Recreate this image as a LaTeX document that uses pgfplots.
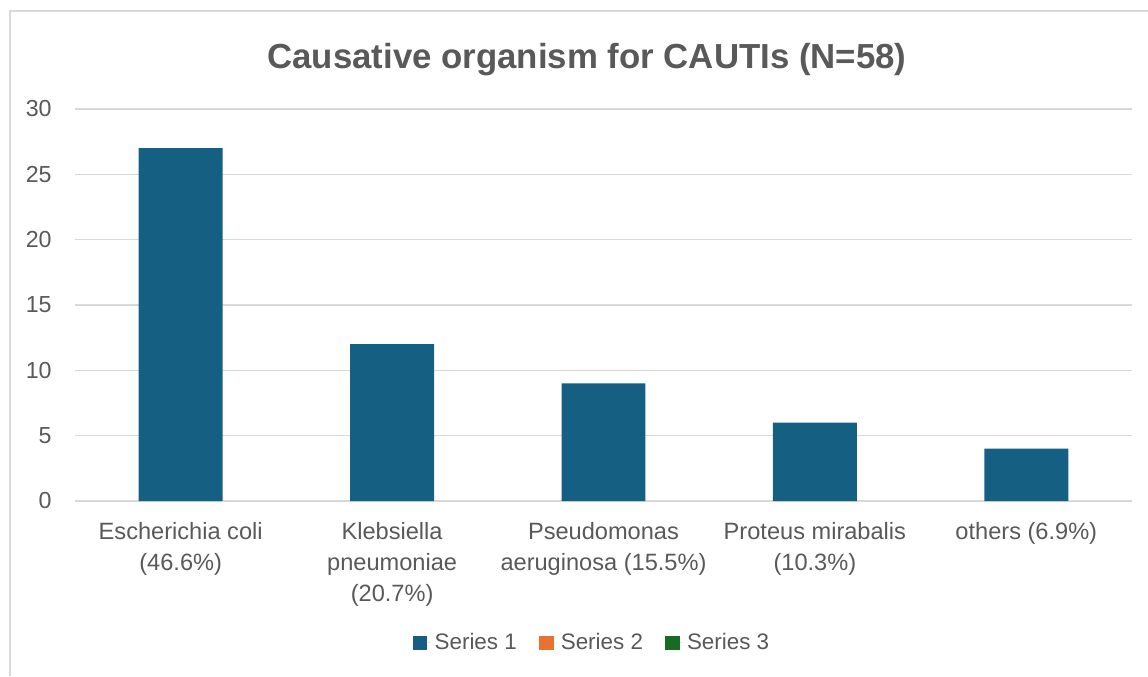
\documentclass[border=0pt]{standalone}
\usepackage{fontspec}
\setmainfont{Liberation Sans}
\usepackage{pgfplots}
\pgfplotsset{compat=1.18}
\definecolor{barblue}{HTML}{156082}
\definecolor{barorange}{HTML}{E97132}
\definecolor{bargreen}{HTML}{196B24}
\definecolor{txtgray}{HTML}{595959}
\definecolor{gridgray}{HTML}{D9D9D9}
\begin{document}
\begin{tikzpicture}
\path[use as bounding box] (0,0) rectangle (574pt,338pt);
\draw[gridgray, line width=0.8pt] (5pt,0) -- (5pt,332.5pt) -- (574pt,332.5pt);
\node[font=\bfseries\fontsize{17.4}{20}\selectfont, text=txtgray] at (293.5pt,308pt) {Causative organism for CAUTIs (N=58)};
\begin{axis}[
  at={(37.5pt,87.5pt)}, anchor=south west,
  scale only axis, width=528.5pt, height=196pt,
  xmin=-0.5, xmax=4.5, ymin=0, ymax=30,
  ytick={0,5,...,30},
  xtick={0,1,2,3,4},
  xticklabels={{Escherichia coli\\(46.6\%)},{Klebsiella\\pneumoniae\\(20.7\%)},{Pseudomonas\\aeruginosa (15.5\%)},{Proteus mirabalis\\(10.3\%)},{others (6.9\%)}},
  axis line style={draw=none},
  tick style={draw=none},
  ymajorgrids, major grid style={draw=gridgray, line width=0.8pt},
  yticklabel style={font=\fontsize{11.6}{13}\selectfont, text=txtgray, anchor=east, inner sep=0pt, xshift=-11.5pt},
  xticklabel style={font=\fontsize{11.8}{15.5}\selectfont, text=txtgray, align=center, anchor=north, inner sep=0pt, yshift=-10.5pt},
  /pgf/number format/assume math mode=true,
  legend columns=3,
  legend style={at={(0.49,-0.362)}, anchor=center, draw=none, font=\fontsize{11.2}{13}\selectfont, text=txtgray,
    /tikz/every even column/.append style={column sep=9pt}},
  legend image code/.code={\fill[#1, draw=none] (0pt,-3.7pt) rectangle (7.4pt,3.7pt); \path (0pt,0pt) -- (9pt,0pt);},
]
\addplot[ybar, bar width=0.397, fill=barblue, draw=none] coordinates {(0,27) (1,12) (2,9) (3,6) (4,4)};
\addlegendentry{Series 1}
\addlegendimage{fill=barorange, draw=none}
\addlegendentry{Series 2}
\addlegendimage{fill=bargreen, draw=none}
\addlegendentry{Series 3}
\end{axis}
\end{tikzpicture}
\end{document}
